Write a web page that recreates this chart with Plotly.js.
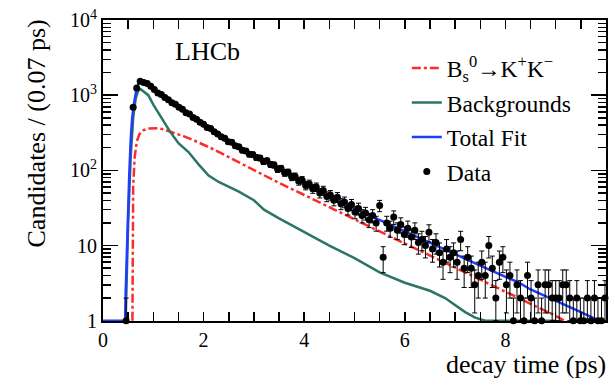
<!DOCTYPE html>
<html>
<head>
<meta charset="utf-8">
<script src="https://cdn.plot.ly/plotly-3.0.1.min.js"></script>
<style>
html,body{margin:0;padding:0;background:#fff;}
#wrap{position:relative;width:615px;height:389px;}
#chart,#ticks{position:absolute;left:0;top:0;width:615px;height:389px;}
#ticks{pointer-events:none;}
</style>
</head>
<body>
<div id="wrap"><div id="chart"></div><div id="ticks"></div></div>
<script>
// Histogram binning (decay time, ps)
const binStart = 0.46;
const binWidth = 0.07;
// Data: candidates per 0.07 ps bin (null = empty bin)
const dataCounts = [
  1, null, 690, 1250, 1530, 1480, 1430, 1310, 1190, 1070,
  1020, 930, 870, 790, 760, 690, 650, 585, 560, 505,
  480, 435, 410, 372, 360, 325, 305, 280, 268, 240,
  236, 212, 206, 185, 181, 164, 162, 148, 146, 131,
  134, 120, 118, 104, 106, 93, 94, 82, 83, 72,
  74, 63, 66, 57, 60, 50, 54, 45, 47, 40,
  44, 36, 38, 31, 35, 28, 31, 25, 27, 22,
  25, 20, 34, 7, 20, 17, 24, 16, 19, 14,
  17, 13, 16, 11, 12, 10, 15, 9, 11, 8,
  6, 9, 7, 8, 6, 12, 5, 7, 5, 3,
  4, 6, 4, 10, 5, 2, 6, 7, 3, 4,
  1, 3, 2, 1, 4, 2, 1, 3, 1, 3,
  3, 2, 2, 2, 3, 3, 2, 1, 2, 1,
  1, 2, 1, 2, 1, 1, 2
];
// Signal component B_s -> K+ K-
const sigT = [0.585, 0.59, 0.60, 0.63, 0.67, 0.72, 0.80, 0.90, 1.00, 1.10, 1.20, 1.40, 1.60, 1.80, 2.00, 2.20, 2.50, 3.00, 3.50, 4.00, 4.50, 5.00, 5.50, 6.00, 6.50, 7.00, 7.50, 8.00, 8.50, 9.00, 9.17];
const sigV = [1, 10, 60, 150, 240, 300, 340, 360, 365, 362, 352, 320, 285, 252, 220, 190, 150, 100, 68, 47, 32, 22.3, 15.4, 10.6, 7.35, 5.1, 3.5, 2.43, 1.68, 1.16, 1.0];
// Backgrounds
const bkgT = [0.45, 0.50, 0.55, 0.60, 0.65, 0.70, 0.75, 0.90, 1.00, 1.10, 1.20, 1.33, 1.50, 1.70, 1.90, 2.10, 2.30, 2.50, 2.70, 3.00, 3.20, 3.50, 4.00, 4.20, 4.50, 5.00, 5.50, 6.00, 6.50, 6.80, 7.00, 7.20, 7.40, 7.60, 8.00, 8.50, 9.00];
const bkgV = [1, 20, 150, 500, 900, 1150, 1200, 1000, 750, 580, 450, 330, 230, 175, 120, 85, 70, 60, 52, 40, 30, 23, 15, 12.6, 10, 6.8, 4.4, 3.2, 2.5, 2.0, 1.6, 1.3, 1.1, 1.0, 1.0, 1.0, 1.0];
// Total fit
const totT = [0, 0.44, 0.45, 0.47, 0.49, 0.52, 0.55, 0.58, 0.62, 0.66, 0.70, 0.75, 0.80, 0.90, 1.00, 1.10, 1.20, 1.40, 1.60, 1.80, 2.00, 2.20, 2.40, 2.70, 3.00, 3.30, 3.60, 4.00, 4.25, 4.50, 5.00, 5.50, 6.00, 6.50, 7.00, 7.50, 8.00, 8.27, 8.50, 9.00, 9.50, 9.86];
const totV = [1, 1, 2.3, 7, 22, 80, 250, 500, 800, 1150, 1400, 1500, 1470, 1330, 1180, 1040, 930, 760, 620, 510, 400, 330, 270, 200, 158, 123, 96, 69, 54, 44, 31, 22, 15.5, 11, 7.7, 5.4, 3.8, 3.2, 2.6, 1.85, 1.3, 1.0];

const xTickVals = [0, 2, 4, 6, 8, 10];
const xTickText = ['0', '2', '4', '6', '8', '10'];
const yTickVals = [1, 10, 100, 1000, 10000];
const yTickText = ['1', '10', '10<sup>2</sup>', '10<sup>3</sup>', '10<sup>4</sup>'];

const labels = {
  sig: 'B<sub>s</sub><sup>0</sup>→K<sup>+</sup>K<sup>−</sup>',
  bkg: 'Backgrounds',
  tot: 'Total Fit',
  data: 'Data',
  exp: 'LHCb',
  xTitle: 'decay time (ps)',
  yTitle: 'Candidates / (0.07 ps)'
};

// build data arrays
const dX = [], dY = [], dEp = [], dEm = [];
dataCounts.forEach((v, i) => {
  if (v === null) return;
  dX.push(binStart + i * binWidth);
  dY.push(v);
  const e = Math.sqrt(v);
  dEp.push(e);
  dEm.push(Math.min(e, v - 1));
});

// all y tick positions (minor + major) for the tick overlay
const yAllVals = [];
for (const dec of [1, 10, 100, 1000]) for (let m = 1; m <= 9; m++) yAllVals.push(m * dec);
yAllVals.push(10000);

const serif = 'Liberation Serif';
const W = 615, H = 389;
const M = {l: 103, r: 9, t: 20, b: 68};
const xRange = [0, 10];
const yRange = [-0.004, 4];

const traces = [
  {x: sigT, y: sigV, type: 'scatter', mode: 'lines', name: labels.sig, legendgroup: 'a',
   line: {color: '#ff2a2a', width: 2.5, dash: 'dashdot'}},
  {x: bkgT, y: bkgV, type: 'scatter', mode: 'lines', name: labels.bkg, legendgroup: 'b',
   line: {color: '#2c7466', width: 2.5}},
  {x: totT, y: totV, type: 'scatter', mode: 'lines', name: labels.tot, legendgroup: 'c',
   line: {color: '#1f3cff', width: 2.5}},
  {x: dX, y: dY, type: 'scatter', mode: 'markers', name: labels.data, legendgroup: 'd',
   cliponaxis: false,
   marker: {color: '#000', size: 7, symbol: 'circle'},
   error_y: {type: 'data', symmetric: false, array: dEp, arrayminus: dEm, color: '#000', thickness: 1, width: 2.5}}
];

const layout = {
  width: W, height: H, margin: M,
  font: {family: serif, color: '#000', size: 19},
  showlegend: true,
  legend: {x: 0.604, y: 0.913, xanchor: 'left', yanchor: 'top', bgcolor: 'rgba(0,0,0,0)',
           font: {family: serif, size: 23.5}, traceorder: 'grouped', tracegroupgap: 1},
  xaxis: {range: xRange, tickmode: 'array', tickvals: xTickVals, ticktext: xTickText,
          ticks: '', showline: true, linecolor: '#000', linewidth: 2, mirror: true,
          showgrid: false, zeroline: false, tickfont: {family: serif, size: 20}},
  yaxis: {type: 'log', range: yRange, tickmode: 'array', tickvals: yTickVals, ticktext: yTickText,
          ticks: '', showline: true, linecolor: '#000', linewidth: 2, mirror: true,
          showgrid: false, zeroline: false, tickfont: {family: serif, size: 20}},
  annotations: [
    {text: labels.exp, xref: 'paper', yref: 'paper', x: 0.207, y: 0.894, xanchor: 'center', yanchor: 'middle',
     showarrow: false, font: {family: serif, size: 26, color: '#000'}},
    {text: labels.xTitle, xref: 'paper', yref: 'paper', x: 1.004, y: -0.146, xanchor: 'right', yanchor: 'middle',
     showarrow: false, font: {family: serif, size: 26, color: '#000'}},
    {text: labels.yTitle, xref: 'paper', yref: 'paper', x: -0.132, y: 1.007, xanchor: 'center', yanchor: 'top',
     textangle: -90, showarrow: false, font: {family: serif, size: 26, color: '#000'}}
  ]
};

// tick overlay: same plot area and scales, only the inside tick marks on all four sides
const tickTraces = [
  {x: [5], y: [100], type: 'scatter', mode: 'markers', marker: {opacity: 0}, hoverinfo: 'skip', showlegend: false},
  {x: [5], y: [100], xaxis: 'x', yaxis: 'y2', type: 'scatter', mode: 'markers', marker: {opacity: 0}, hoverinfo: 'skip', showlegend: false}
];
const tickLayout = {
  width: W, height: H, margin: M, showlegend: false,
  paper_bgcolor: 'rgba(0,0,0,0)', plot_bgcolor: 'rgba(0,0,0,0)',
  xaxis: {range: xRange, tickmode: 'array', tickvals: xTickVals, showticklabels: false,
          ticks: 'inside', ticklen: 9, tickwidth: 1.5, tickcolor: '#000',
          minor: {tickmode: 'linear', tick0: 0, dtick: 0.5, ticks: 'inside', ticklen: 5, tickwidth: 1.5, tickcolor: '#000'},
          showline: false, mirror: 'allticks', showgrid: false, zeroline: false},
  yaxis: {type: 'log', range: yRange, tickmode: 'array', tickvals: yAllVals, showticklabels: false,
          ticks: 'inside', ticklen: 8, tickwidth: 1.5, tickcolor: '#000',
          showline: false, mirror: 'allticks', showgrid: false, zeroline: false},
  yaxis2: {type: 'log', range: yRange, overlaying: 'y', side: 'left', tickmode: 'array', tickvals: yTickVals,
           showticklabels: false, ticks: 'inside', ticklen: 15, tickwidth: 1.5, tickcolor: '#000',
           showline: false, mirror: 'allticks', showgrid: false, zeroline: false}
};

Plotly.newPlot('chart', traces, layout, {displayModeBar: false}).then(function () {
  return Plotly.newPlot('ticks', tickTraces, tickLayout, {displayModeBar: false, staticPlot: true});
});
</script>
</body>
</html>
